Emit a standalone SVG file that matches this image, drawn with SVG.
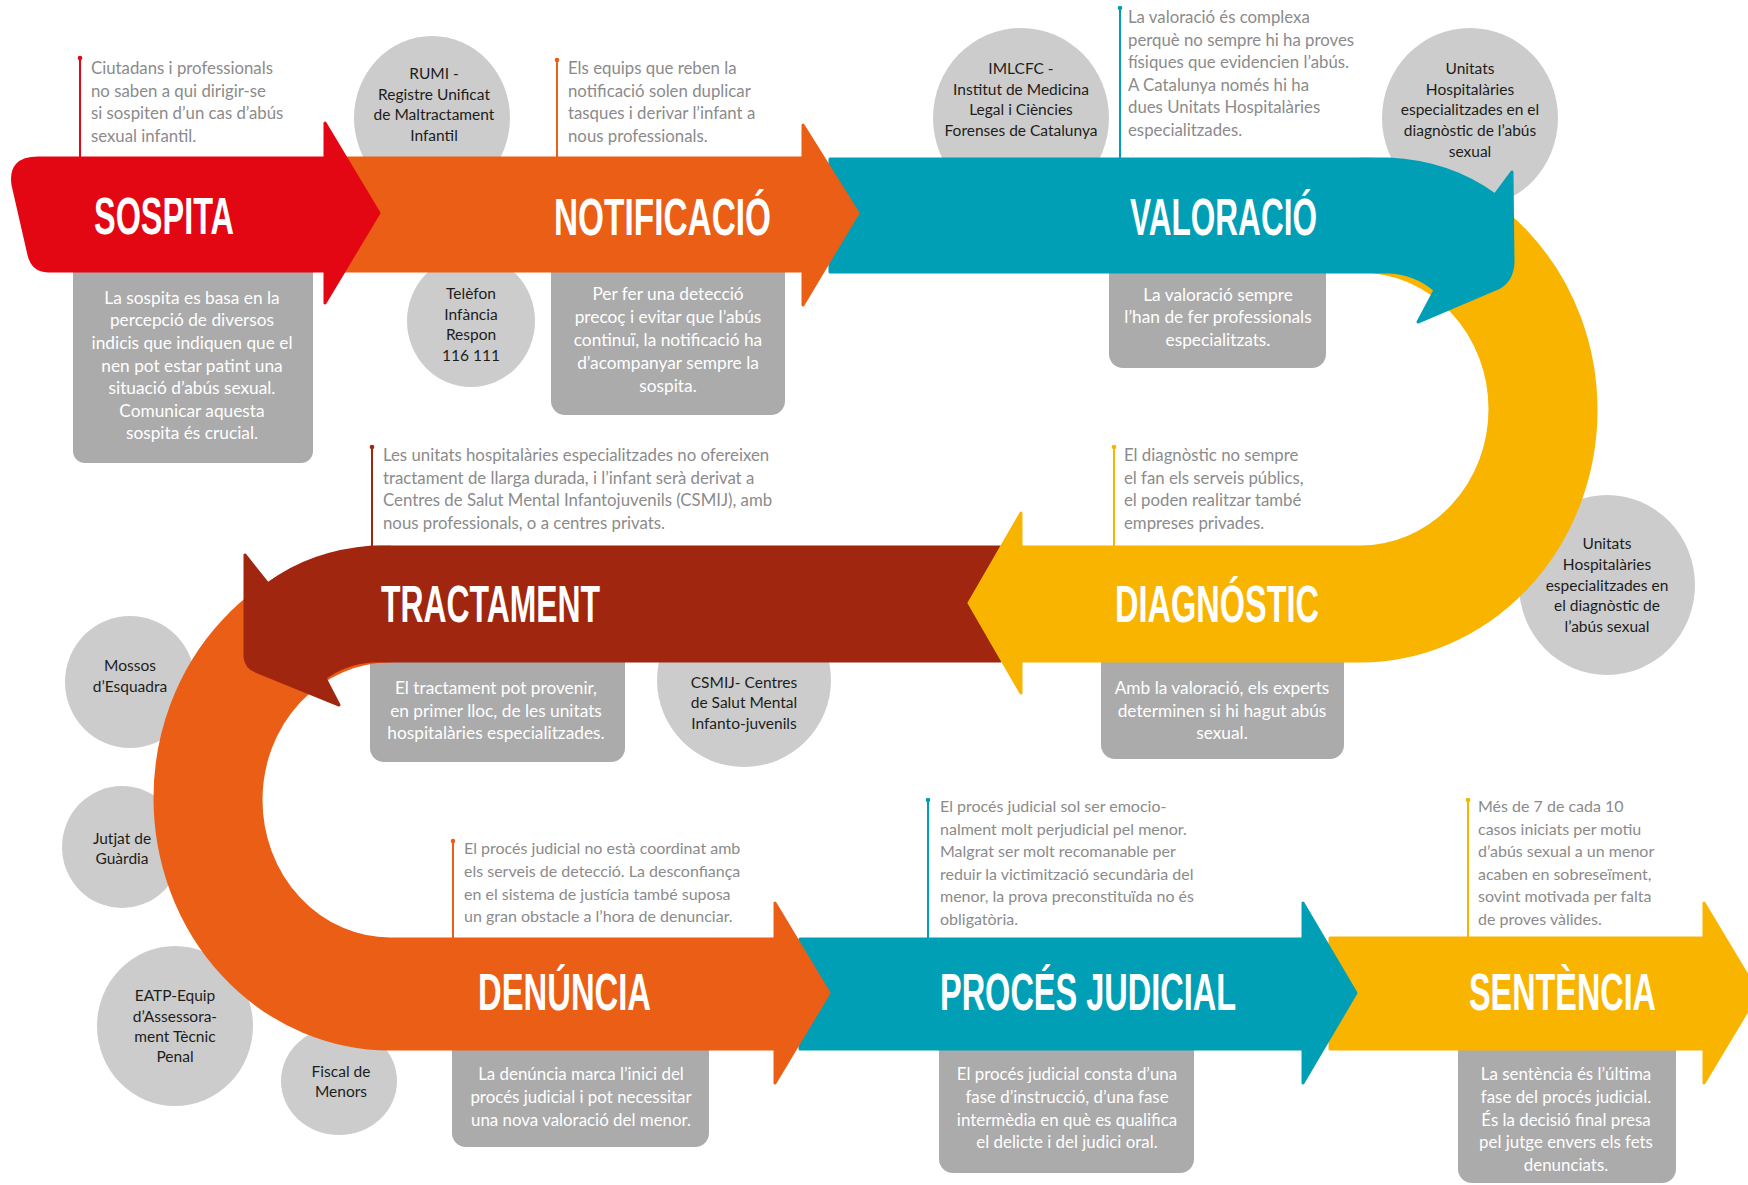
<svg xmlns="http://www.w3.org/2000/svg" width="1748" height="1185" viewBox="0 0 1748 1185">
<style>
.note{font-family:Lato,"Liberation Sans",sans-serif;font-size:16.8px;fill:#8b8b8b}
.note2{font-family:Lato,"Liberation Sans",sans-serif;font-size:16px;fill:#8b8b8b}
.box{font-family:Lato,"Liberation Sans",sans-serif;font-size:17.3px;fill:#ffffff;text-anchor:middle}
.box2{font-family:Lato,"Liberation Sans",sans-serif;font-size:16.9px;fill:#ffffff;text-anchor:middle}
.circ{font-family:Lato,"Liberation Sans",sans-serif;font-size:15.5px;fill:#1d1d1b;text-anchor:middle}
.title{font-family:"Liberation Sans Narrow","Liberation Sans",sans-serif;font-weight:bold;font-size:52px;fill:#ffffff}
.bubble{fill:#cccccc}
.gbox{fill:#ababab}
.red{fill:#e30613;stroke:#e30613}
.orange{fill:#ea5e16;stroke:#ea5e16}
.teal{fill:#009fb5;stroke:#009fb5}
.yellow{fill:#f9b400;stroke:#f9b400}
.dred{fill:#a1260f;stroke:#a1260f}
.band{stroke-width:3;stroke-linejoin:round}
</style>
<rect width="1748" height="1185" fill="#ffffff"/>

<!-- circles (actors) -->
<g id="c-rumi"><ellipse class="bubble" cx="432" cy="118" rx="78" ry="82"/>
<text class="circ" x="434" y="79">RUMI -</text><text class="circ" x="434" y="100">Registre Unificat</text><text class="circ" x="434" y="120">de Maltractament</text><text class="circ" x="434" y="141">Infantil</text></g>
<g id="c-telefon"><ellipse class="bubble" cx="471" cy="321" rx="64" ry="66"/>
<text class="circ" x="471" y="299">Telèfon</text><text class="circ" x="471" y="320">Infància</text><text class="circ" x="471" y="340">Respon</text><text class="circ" x="471" y="361">116 111</text></g>
<g id="c-imlcfc"><ellipse class="bubble" cx="1021" cy="118" rx="88" ry="90"/>
<text class="circ" x="1021" y="74">IMLCFC -</text><text class="circ" x="1021" y="95">Institut de Medicina</text><text class="circ" x="1021" y="115">Legal i Ciències</text><text class="circ" x="1021" y="136">Forenses de Catalunya</text></g>
<g id="c-unitats1"><ellipse class="bubble" cx="1470" cy="118" rx="88" ry="90"/>
<text class="circ" x="1470" y="74">Unitats</text><text class="circ" x="1470" y="95">Hospitalàries</text><text class="circ" x="1470" y="115">especialitzades en el</text><text class="circ" x="1470" y="136">diagnòstic de l’abús</text><text class="circ" x="1470" y="157">sexual</text></g>
<g id="c-mossos"><ellipse class="bubble" cx="130" cy="682" rx="65" ry="66"/>
<text class="circ" x="130" y="671">Mossos</text><text class="circ" x="130" y="692">d’Esquadra</text></g>
<g id="c-csmij"><ellipse class="bubble" cx="744" cy="680" rx="87" ry="87"/>
<text class="circ" x="744" y="688">CSMIJ- Centres</text><text class="circ" x="744" y="708">de Salut Mental</text><text class="circ" x="744" y="729">Infanto-juvenils</text></g>
<g id="c-unitats2"><ellipse class="bubble" cx="1607" cy="585" rx="88" ry="90"/>
<text class="circ" x="1607" y="549">Unitats</text><text class="circ" x="1607" y="570">Hospitalàries</text><text class="circ" x="1607" y="591">especialitzades en</text><text class="circ" x="1607" y="611">el diagnòstic de</text><text class="circ" x="1607" y="632">l’abús sexual</text></g>
<g id="c-jutjat"><ellipse class="bubble" cx="122" cy="847" rx="60" ry="61"/>
<text class="circ" x="122" y="844">Jutjat de</text><text class="circ" x="122" y="864">Guàrdia</text></g>
<g id="c-eatp"><ellipse class="bubble" cx="175" cy="1026" rx="78" ry="80"/>
<text class="circ" x="175" y="1001">EATP-Equip</text><text class="circ" x="175" y="1022">d’Assessora-</text><text class="circ" x="175" y="1042">ment Tècnic</text><text class="circ" x="175" y="1062">Penal</text></g>
<g id="c-fiscal"><ellipse class="bubble" cx="339" cy="1081" rx="58" ry="54"/>
<text class="circ" x="341" y="1077">Fiscal de</text><text class="circ" x="341" y="1097">Menors</text></g>

<!-- description boxes -->
<g id="b-sospita"><rect class="gbox" x="73" y="250" width="240" height="213" rx="12"/>
<text class="box" x="192" y="304">La sospita es basa en la</text><text class="box" x="192" y="326">percepció de diversos</text><text class="box" x="192" y="349">indicis que indiquen que el</text><text class="box" x="192" y="372">nen pot estar patint una</text><text class="box" x="192" y="394">situació d’abús sexual.</text><text class="box" x="192" y="417">Comunicar aquesta</text><text class="box" x="192" y="439">sospita és crucial.</text></g>
<g id="b-notificacio"><rect class="gbox" x="551" y="250" width="234" height="165" rx="14"/>
<text class="box" x="668" y="300">Per fer una detecció</text><text class="box" x="668" y="323">precoç i evitar que l’abús</text><text class="box" x="668" y="346">continuï, la notificació ha</text><text class="box" x="668" y="369">d’acompanyar sempre la</text><text class="box" x="668" y="392">sospita.</text></g>
<g id="b-valoracio"><rect class="gbox" x="1109" y="250" width="217" height="118" rx="14"/>
<text class="box" x="1218" y="301">La valoració sempre</text><text class="box" x="1218" y="323">l’han de fer professionals</text><text class="box" x="1218" y="346">especialitzats.</text></g>
<g id="b-tractament"><rect class="gbox" x="370" y="640" width="255" height="122" rx="14"/>
<text class="box" x="496" y="694">El tractament pot provenir,</text><text class="box" x="496" y="717">en primer lloc, de les unitats</text><text class="box" x="496" y="739">hospitalàries especialitzades.</text></g>
<g id="b-diagnostic"><rect class="gbox" x="1101" y="640" width="243" height="119" rx="14"/>
<text class="box" x="1222" y="694">Amb la valoració, els experts</text><text class="box" x="1222" y="717">determinen si hi hagut abús</text><text class="box" x="1222" y="739">sexual.</text></g>
<g id="b-denuncia"><rect class="gbox" x="452" y="1030" width="257" height="117" rx="14"/>
<text class="box2" x="581" y="1080">La denúncia marca l’inici del</text><text class="box2" x="581" y="1103">procés judicial i pot necessitar</text><text class="box2" x="581" y="1126">una nova valoració del menor.</text></g>
<g id="b-proces"><rect class="gbox" x="939" y="1030" width="255" height="143" rx="14"/>
<text class="box2" x="1067" y="1080">El procés judicial consta d’una</text><text class="box2" x="1067" y="1103">fase d’instrucció, d’una fase</text><text class="box2" x="1067" y="1126">intermèdia en què es qualifica</text><text class="box2" x="1067" y="1148">el delicte i del judici oral.</text></g>
<g id="b-sentencia"><rect class="gbox" x="1458" y="1030" width="218" height="153" rx="14"/>
<text class="box2" x="1566" y="1080">La sentència és l’última</text><text class="box2" x="1566" y="1103">fase del procés judicial.</text><text class="box2" x="1566" y="1126">És la decisió final presa</text><text class="box2" x="1566" y="1148">pel jutge envers els fets</text><text class="box2" x="1566" y="1171">denunciats.</text></g>

<!-- notes -->
<g id="n-sospita"><line x1="80" y1="58" x2="80" y2="160" stroke="#e30613" stroke-width="2"/><circle cx="80" cy="58" r="2.3" fill="#e30613"/>
<text class="note" x="91" y="74">Ciutadans i professionals</text><text class="note" x="91" y="97">no saben a qui dirigir-se</text><text class="note" x="91" y="119">si sospiten d’un cas d’abús</text><text class="note" x="91" y="142">sexual infantil.</text></g>
<g id="n-notificacio"><line x1="557" y1="60" x2="557" y2="160" stroke="#ea5e16" stroke-width="2"/><circle cx="557" cy="60" r="2.3" fill="#ea5e16"/>
<text class="note" x="568" y="74">Els equips que reben la</text><text class="note" x="568" y="97">notificació solen duplicar</text><text class="note" x="568" y="119">tasques i derivar l’infant a</text><text class="note" x="568" y="142">nous professionals.</text></g>
<g id="n-valoracio"><line x1="1120" y1="8" x2="1120" y2="160" stroke="#009fb5" stroke-width="2"/><circle cx="1120" cy="8" r="2.3" fill="#009fb5"/>
<text class="note" x="1128" y="23">La valoració és complexa</text><text class="note" x="1128" y="46">perquè no sempre hi ha proves</text><text class="note" x="1128" y="68">físiques que evidencien l’abús.</text><text class="note" x="1128" y="91">A Catalunya només hi ha</text><text class="note" x="1128" y="113">dues Unitats Hospitalàries</text><text class="note" x="1128" y="136">especialitzades.</text></g>
<g id="n-tractament"><line x1="372" y1="447" x2="372" y2="549" stroke="#a1260f" stroke-width="2"/><circle cx="372" cy="447" r="2.3" fill="#a1260f"/>
<text class="note" x="383" y="461">Les unitats hospitalàries especialitzades no ofereixen</text><text class="note" x="383" y="484">tractament de llarga durada, i l’infant serà derivat a</text><text class="note" x="383" y="506">Centres de Salut Mental Infantojuvenils (CSMIJ), amb</text><text class="note" x="383" y="529">nous professionals, o a centres privats.</text></g>
<g id="n-diagnostic"><line x1="1114" y1="447" x2="1114" y2="549" stroke="#f9b400" stroke-width="2"/><circle cx="1114" cy="447" r="2.3" fill="#f9b400"/>
<text class="note" x="1124" y="461">El diagnòstic no sempre</text><text class="note" x="1124" y="484">el fan els serveis públics,</text><text class="note" x="1124" y="506">el poden realitzar també</text><text class="note" x="1124" y="529">empreses privades.</text></g>
<g id="n-denuncia"><line x1="453" y1="841" x2="453" y2="941" stroke="#ea5e16" stroke-width="2"/><circle cx="453" cy="841" r="2.3" fill="#ea5e16"/>
<text class="note2" x="464" y="854">El procés judicial no està coordinat amb</text><text class="note2" x="464" y="877">els serveis de detecció. La desconfiança</text><text class="note2" x="464" y="900">en el sistema de justícia també suposa</text><text class="note2" x="464" y="922">un gran obstacle a l’hora de denunciar.</text></g>
<g id="n-proces"><line x1="928" y1="800" x2="928" y2="941" stroke="#009fb5" stroke-width="2"/><circle cx="928" cy="800" r="2.3" fill="#009fb5"/>
<text class="note2" x="940" y="812">El procés judicial sol ser emocio-</text><text class="note2" x="940" y="835">nalment molt perjudicial pel menor.</text><text class="note2" x="940" y="857">Malgrat ser molt recomanable per</text><text class="note2" x="940" y="880">reduir la victimització secundària del</text><text class="note2" x="940" y="902">menor, la prova preconstituïda no és</text><text class="note2" x="940" y="925">obligatòria.</text></g>
<g id="n-sentencia"><line x1="1468" y1="800" x2="1468" y2="939" stroke="#f9b400" stroke-width="2"/><circle cx="1468" cy="800" r="2.3" fill="#f9b400"/>
<text class="note2" x="1478" y="812">Més de 7 de cada 10</text><text class="note2" x="1478" y="835">casos iniciats per motiu</text><text class="note2" x="1478" y="857">d’abús sexual a un menor</text><text class="note2" x="1478" y="880">acaben en sobreseïment,</text><text class="note2" x="1478" y="902">sovint motivada per falta</text><text class="note2" x="1478" y="925">de proves vàlides.</text></g>

<!-- connectors: the arrow bands (bottom to top) -->
<g id="connectors">
<path id="a-sentencia" class="yellow band" d="M1330 938 L1704 938 L1704 903 L1758 993 L1704 1083 L1704 1049 L1330 1049 Z"/>
<path id="a-proces" class="teal band" d="M800 939 L1303 939 L1303 903 L1356 993 L1303 1083 L1303 1049 L800 1049 Z"/>
<path id="a-denuncia" class="orange band" d="M390 547 A235 251 0 0 0 390 1049 L775 1049 L775 1083 L829 993 L775 903 L775 939 L390 939 A129 139 0 0 1 390 661 Z"/>
<path id="a-tractament" class="dred band" d="M1000 547 L372 547 Q310 552 268 584 L245 555 L245 657 Q246 668 258 672 L339 705 L325 678 Q345 663 372 661 L1000 661 Z"/>
<path id="a-diagnostic" class="yellow band" d="M1360 159 A236 251 0 0 1 1360 661 L1021 661 L1021 693 L969 603 L1021 513 L1021 547 L1360 547 A130 138 0 0 0 1360 271 Z"/>
<path id="a-valoracio" class="teal band" d="M830 159 L1389 159 Q1450 162 1495 195 L1512 172 L1513 263 Q1512 280 1500 287 L1418 322 L1435 290 Q1415 273 1389 272 L830 272 Z"/>
<path id="a-notificacio" class="orange band" d="M340 158 L803 158 L803 125 L858 213 L803 305 L803 271 L340 271 Z"/>
<path id="a-sospita" class="red band" d="M38 158 L325 158 L325 123 L379 213 L325 303 L325 271 L48 271 Q33 271 29 255 L13 185 Q9 158 38 158 Z"/>
</g>

<!-- titles -->
<g id="titles">
<text class="title" x="94" y="234" textLength="140" lengthAdjust="spacingAndGlyphs">SOSPITA</text>
<text class="title" x="554" y="235" textLength="217" lengthAdjust="spacingAndGlyphs">NOTIFICACIÓ</text>
<text class="title" x="1130" y="235" textLength="187" lengthAdjust="spacingAndGlyphs">VALORACIÓ</text>
<text class="title" x="381" y="622" textLength="219" lengthAdjust="spacingAndGlyphs">TRACTAMENT</text>
<text class="title" x="1115" y="622" textLength="204" lengthAdjust="spacingAndGlyphs">DIAGNÓSTIC</text>
<text class="title" x="478" y="1010" textLength="173" lengthAdjust="spacingAndGlyphs">DENÚNCIA</text>
<text class="title" x="940" y="1010" textLength="296" lengthAdjust="spacingAndGlyphs">PROCÉS JUDICIAL</text>
<text class="title" x="1469" y="1010" textLength="187" lengthAdjust="spacingAndGlyphs">SENTÈNCIA</text>
</g>
</svg>
